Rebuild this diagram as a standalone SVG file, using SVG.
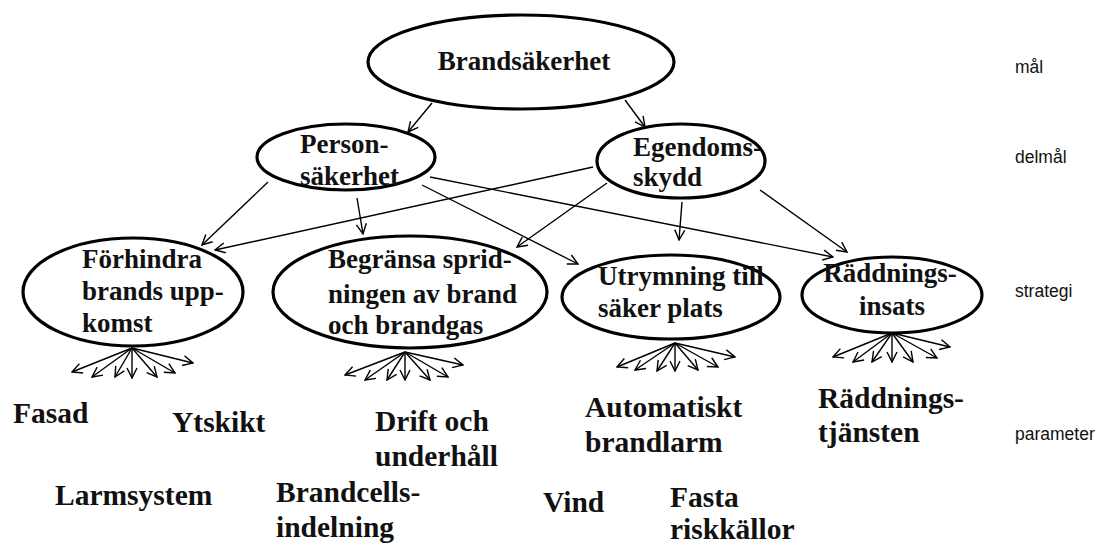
<svg xmlns="http://www.w3.org/2000/svg" width="1110" height="545" viewBox="0 0 1110 545">
<style>
.n{fill:#fff;stroke:#000;stroke-width:3.2}
.t{font-family:"Liberation Serif","Times New Roman",serif;font-weight:bold;font-size:27px;fill:#111}
.p{font-family:"Liberation Serif","Times New Roman",serif;font-weight:bold;font-size:29.5px;fill:#111}
.lv{font-family:"Liberation Sans",Arial,sans-serif;font-size:17.5px;fill:#111}
.c line{stroke:#000;stroke-width:1.4;marker-end:url(#ah)}
</style>
<defs>
<marker id="ah" viewBox="0 0 12 12" refX="11" refY="6" markerWidth="12" markerHeight="12" markerUnits="userSpaceOnUse" orient="auto">
<path d="M1,1 L11,6 L1,11" fill="none" stroke="#000" stroke-width="1.4"/>
</marker>
</defs>
<rect width="1110" height="545" fill="#fff"/>
<g id="connectors" class="c">
<line x1="432" y1="103" x2="408" y2="132"/>
<line x1="625" y1="100" x2="645" y2="127"/>
<line x1="268" y1="182" x2="202" y2="245"/>
<line x1="357" y1="198" x2="363" y2="234"/>
<line x1="422" y1="185" x2="578" y2="264"/>
<line x1="430" y1="177" x2="833" y2="257"/>
<line x1="593" y1="167" x2="215" y2="250"/>
<line x1="607" y1="183" x2="517" y2="247"/>
<line x1="682" y1="202" x2="679" y2="240"/>
<line x1="760" y1="190" x2="847" y2="252"/>
<line x1="132" y1="348" x2="72" y2="372"/>
<line x1="132" y1="348" x2="92" y2="377"/>
<line x1="132" y1="348" x2="115" y2="377"/>
<line x1="132" y1="348" x2="132" y2="378"/>
<line x1="132" y1="348" x2="157" y2="377"/>
<line x1="132" y1="348" x2="175" y2="373"/>
<line x1="132" y1="348" x2="193" y2="363"/>
<line x1="405" y1="352" x2="345" y2="375"/>
<line x1="405" y1="352" x2="365" y2="380"/>
<line x1="405" y1="352" x2="387" y2="380"/>
<line x1="405" y1="352" x2="405" y2="380"/>
<line x1="405" y1="352" x2="430" y2="380"/>
<line x1="405" y1="352" x2="448" y2="377"/>
<line x1="405" y1="352" x2="463" y2="365"/>
<line x1="675" y1="343" x2="617" y2="367"/>
<line x1="675" y1="343" x2="635" y2="370"/>
<line x1="675" y1="343" x2="657" y2="371"/>
<line x1="675" y1="343" x2="675" y2="371"/>
<line x1="675" y1="343" x2="698" y2="370"/>
<line x1="675" y1="343" x2="718" y2="367"/>
<line x1="675" y1="343" x2="735" y2="357"/>
<line x1="892" y1="333" x2="833" y2="357"/>
<line x1="892" y1="333" x2="853" y2="362"/>
<line x1="892" y1="333" x2="872" y2="362"/>
<line x1="892" y1="333" x2="892" y2="362"/>
<line x1="892" y1="333" x2="913" y2="362"/>
<line x1="892" y1="333" x2="937" y2="358"/>
<line x1="892" y1="333" x2="950" y2="347"/>
</g>
<g id="brandsakerhet">
<ellipse class="n" cx="521" cy="62" rx="153" ry="47"/>
<text class="t" x="524" y="70" text-anchor="middle">Brandsäkerhet</text>
</g>
<g id="personsakerhet">
<ellipse class="n" cx="346" cy="157" rx="89" ry="33"/>
<text class="t" x="300" y="153">Person-</text>
<text class="t" x="300" y="185">säkerhet</text>
</g>
<g id="egendomsskydd">
<ellipse class="n" cx="681" cy="161" rx="84" ry="37"/>
<text class="t" x="633" y="156">Egendoms-</text>
<text class="t" x="633" y="186">skydd</text>
</g>
<g id="forhindra">
<ellipse class="n" cx="133" cy="292" rx="110" ry="54"/>
<text class="t" x="82" y="268">Förhindra</text>
<text class="t" x="82" y="300">brands upp-</text>
<text class="t" x="82" y="332">komst</text>
</g>
<g id="begransa">
<ellipse class="n" cx="410" cy="292" rx="137" ry="56"/>
<text class="t" x="328" y="268">Begränsa sprid-</text>
<text class="t" x="328" y="303">ningen av brand</text>
<text class="t" x="328" y="334">och brandgas</text>
</g>
<g id="utrymning">
<ellipse class="n" cx="671" cy="297" rx="109" ry="42"/>
<text class="t" x="598" y="285">Utrymning till</text>
<text class="t" x="598" y="317">säker plats</text>
</g>
<g id="raddningsinsats">
<ellipse class="n" cx="892" cy="295" rx="90" ry="38"/>
<text class="t" x="890" y="282" text-anchor="middle">Räddnings-</text>
<text class="t" x="892" y="315" text-anchor="middle">insats</text>
</g>
<g id="parameters">
<text class="p" x="13" y="423">Fasad</text>
<text class="p" x="172" y="432">Ytskikt</text>
<text class="p" x="55" y="505">Larmsystem</text>
<text class="p" x="375" y="431">Drift och</text>
<text class="p" x="375" y="466">underhåll</text>
<text class="p" x="276" y="502">Brandcells-</text>
<text class="p" x="276" y="537">indelning</text>
<text class="p" x="585" y="417">Automatiskt</text>
<text class="p" x="585" y="452">brandlarm</text>
<text class="p" x="543" y="512">Vind</text>
<text class="p" x="670" y="507">Fasta</text>
<text class="p" x="670" y="539">riskkällor</text>
<text class="p" x="818" y="408">Räddnings-</text>
<text class="p" x="818" y="442">tjänsten</text>
</g>
<g id="levels">
<text class="lv" x="1015" y="73">mål</text>
<text class="lv" x="1015" y="163">delmål</text>
<text class="lv" x="1015" y="297">strategi</text>
<text class="lv" x="1015" y="440">parameter</text>
</g>
</svg>
